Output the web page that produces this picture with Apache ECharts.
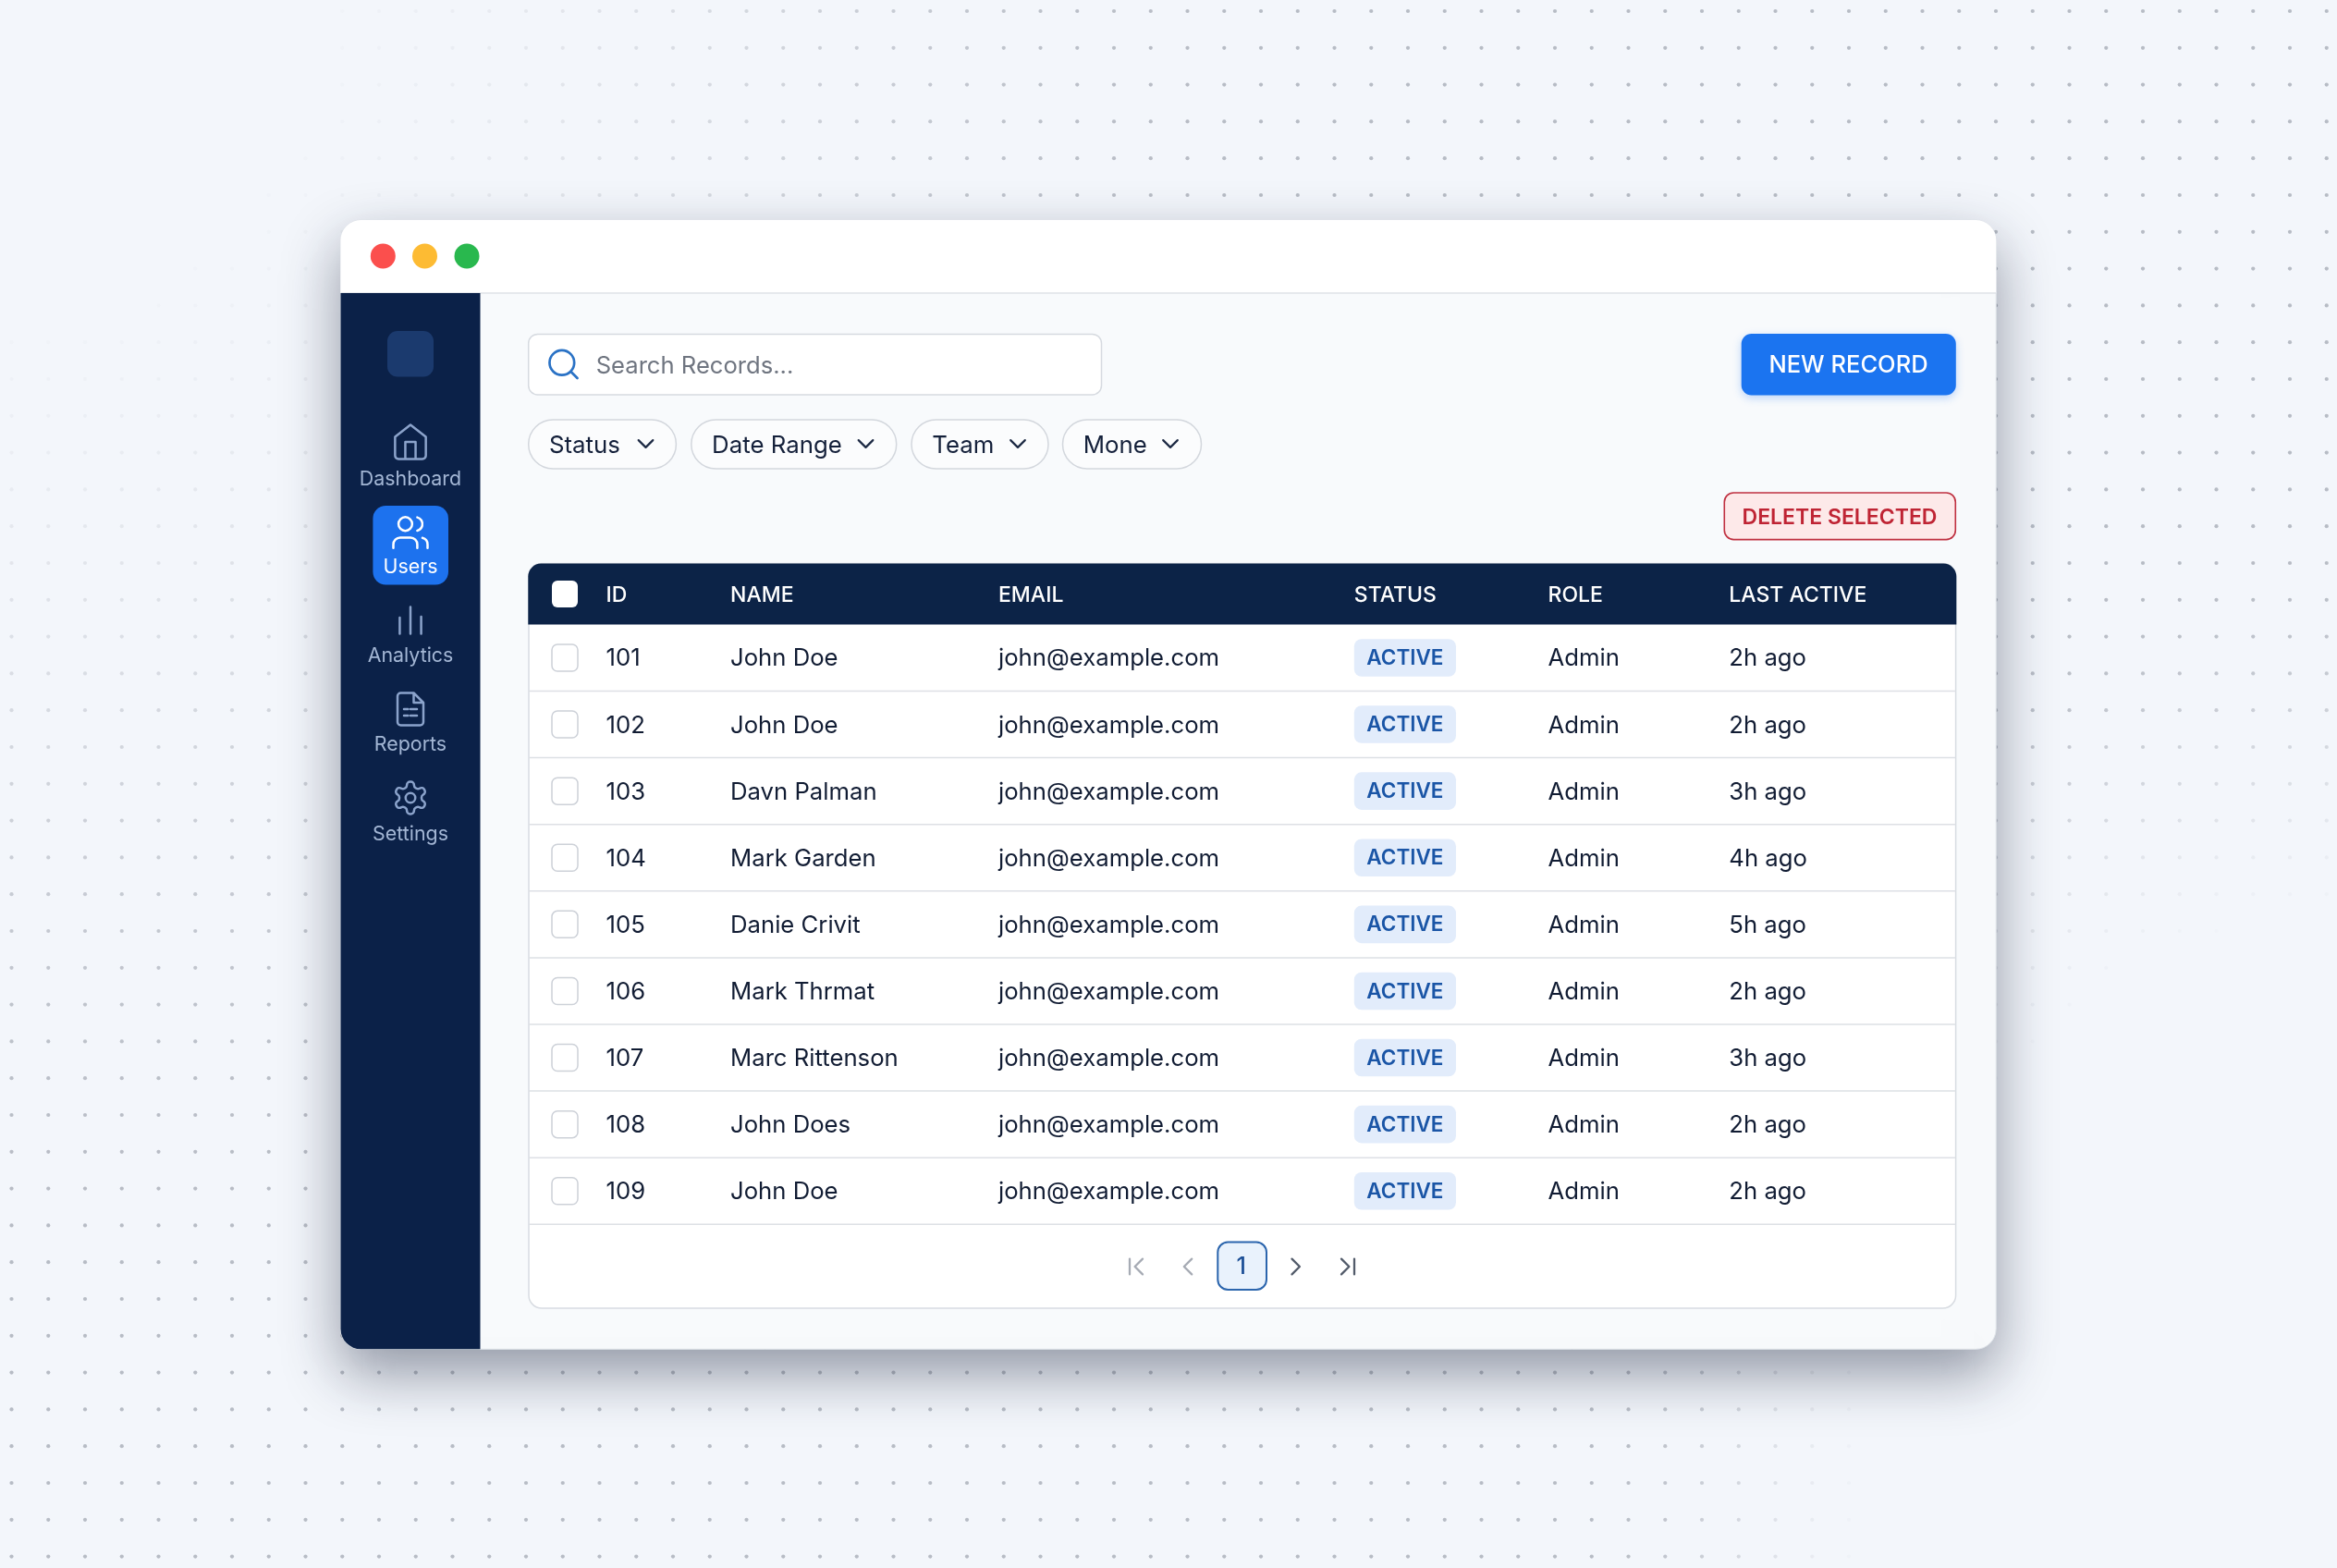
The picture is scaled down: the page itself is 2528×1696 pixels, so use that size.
<!DOCTYPE html>
<html><head><meta charset="utf-8">
<style>html,body{margin:0;padding:0;background:#f3f6fb}#c{width:2528px;height:1696px}</style>
<script src="https://cdn.jsdelivr.net/npm/echarts@6/dist/echarts.min.js"></script>
</head><body><div id="c"></div>
<script>
// ---- values ----
const navLabels = ['Dashboard','Users','Analytics','Reports','Settings'];
const filterLabels = ['Status','Date Range','Team','Mone'];
const tableColumns = ['ID','NAME','EMAIL','STATUS','ROLE','LAST ACTIVE'];
const rowIds = [101,102,103,104,105,106,107,108,109];
const rowNames = ['John Doe','John Doe','Davn Palman','Mark Garden','Danie Crivit','Mark Thrmat','Marc Rittenson','John Does','John Doe'];
const rowEmails = rowIds.map(() => 'john@example.com');
const rowStatuses = rowIds.map(() => 'ACTIVE');
const rowRoles = rowIds.map(() => 'Admin');
const rowLastActive = ['2h ago','2h ago','3h ago','4h ago','5h ago','2h ago','3h ago','2h ago','2h ago'];
const searchPlaceholder = 'Search Records...';
const newLabel = 'NEW RECORD';
const deleteLabel = 'DELETE SELECTED';
const pageLabel = '1';

// ---- layout and styling ----
const FONT = 'Inter';
const W = 2528, H = 1696;
const win = {x:368.5, y:238, r:2159.2, b:1459.3};
const side = 519.5, titleY = 317;
const table = {x:572, r:2115.6, top:609.6, head:675.4, rowH:72.1, bottom:1415};
const colX = [655.5,790,1080,1464.8,1674.5,1870.3];
const NAV_ICONS = [
  {d:'M3 9l9-7 9 7v11a2 2 0 0 1-2 2H5a2 2 0 0 1-2-2zM9 22V12h6v10', s:1.85, cy:478, ly:518.5},
  {d:'M16 21v-2a4 4 0 0 0-4-4H6a4 4 0 0 0-4 4v2M13 7a4 4 0 1 1-8 0 4 4 0 0 1 8 0zM22 21v-2a4 4 0 0 0-3-3.87M16 3.13a4 4 0 0 1 0 7.75', s:1.85, cy:576, ly:614},
  {d:'M6 20v-9M12 20V5M18 20v-9.5', s:1.93, cy:670, ly:710},
  {d:'M14 2H6a2 2 0 0 0-2 2v16a2 2 0 0 0 2 2h12a2 2 0 0 0 2-2V8zM14 2v6h6M8 12h2.5M12 12h4M8 16h2.5M12 16h4', s:1.75, cy:767, ly:806},
  {d:'M12.22 2h-.44a2 2 0 0 0-2 2v.18a2 2 0 0 1-1 1.73l-.43.25a2 2 0 0 1-2 0l-.15-.08a2 2 0 0 0-2.73.73l-.22.38a2 2 0 0 0 .73 2.73l.15.1a2 2 0 0 1 1 1.72v.51a2 2 0 0 1-1 1.74l-.15.09a2 2 0 0 0-.73 2.73l.22.38a2 2 0 0 0 2.73.73l.15-.08a2 2 0 0 1 2 0l.43.25a2 2 0 0 1 1 1.73V20a2 2 0 0 0 2 2h.44a2 2 0 0 0 2-2v-.18a2 2 0 0 1 1-1.73l.43-.25a2 2 0 0 1 2 0l.15.08a2 2 0 0 0 2.73-.73l.22-.39a2 2 0 0 0-.73-2.73l-.15-.08a2 2 0 0 1-1-1.74v-.5a2 2 0 0 1 1-1.74l.15-.09a2 2 0 0 0 .73-2.73l-.22-.38a2 2 0 0 0-2.73-.73l-.15.08a2 2 0 0 1-2 0l-.43-.25a2 2 0 0 1-1-1.73V4a2 2 0 0 0-2-2zM15 12a3 3 0 1 1-6 0 3 3 0 0 1 6 0z', s:1.75, cy:863, ly:902.5}
];
const FILTER_BOXES = [[571.7,731.4,698.5],[747.8,969.7,936.5],[986,1134,1101],[1149.5,1299.5,1266]];
const PAGE_ICONS = [
  {d:'M17 18l-6-6 6-6M7 6v12', cx:1229, c:'#a6abb4'},
  {d:'M15 18l-6-6 6-6', cx:1285, c:'#a6abb4'},
  {d:'M9 18l6-6-6-6', cx:1401.7, c:'#525b6a'},
  {d:'M7 18l6-6-6-6M17 6v12', cx:1458, c:'#525b6a'}
];

function text(str, x, y, font, fill, align) {
  return {type:'text', x:x, y:y, silent:true,
    style:{text:str, font:font, fill:fill, align:align||'left', verticalAlign:'middle',
           textAlign:align||'left', textVerticalAlign:'middle'}};
}
function icon(d, cx, cy, s, color, lw) {
  return {type:'path', x:cx-12*s, y:cy-12*s, scaleX:s, scaleY:s, silent:true,
    shape:{pathData:d},
    style:{fill:null, stroke:color, lineWidth:lw/s, lineCap:'round', lineJoin:'round'}};
}
function smooth(a,b,v){const t=Math.max(0,Math.min(1,(v-a)/(b-a)));return t*t*(3-2*t);}

// background dot texture
const dots = [];
for (let i=0;i<64;i++) for (let j=0;j<43;j++) {
  const x=12.5+i*39.75, y=12+j*39.8;
  const a1=smooth(220,1350,Math.hypot(x,y));
  const a2=smooth(1,1.7,Math.hypot((W-x)/480,(H-y)/656));
  const a=a1*a2;
  if (a<0.04) continue;
  dots.push({type:'circle', silent:true, shape:{cx:x,cy:y,r:2.1}, style:{fill:'rgba(140,146,158,'+(0.58*a).toFixed(3)+')'}});
}

const rect=(x,y,x2,y2,r,style,extra)=>Object.assign({type:'rect',silent:true,shape:{x:x,y:y,width:x2-x,height:y2-y,r:r},style:style},extra||{});

const chrome = [
  // window
  rect(win.x,win.y,win.r,win.b,22,{fill:'#f8fafc',shadowBlur:62,shadowOffsetY:26,shadowColor:'rgba(22,32,58,0.44)',stroke:'#e1e5ea',lineWidth:1}),
  rect(win.x,win.y,win.r,titleY,[22,22,0,0],{fill:'#ffffff'}),
  {type:'line',silent:true,shape:{x1:win.x,y1:titleY,x2:win.r,y2:titleY},style:{stroke:'#dfe2e7',lineWidth:1.5}},
  rect(win.x,titleY,side,win.b,[0,0,0,22],{fill:'#0b2148'}),
  {type:'circle',silent:true,shape:{cx:414.3,cy:277,r:13.5},style:{fill:'#fb4f4d'}},
  {type:'circle',silent:true,shape:{cx:459.5,cy:277,r:13.5},style:{fill:'#fdbb33'}},
  {type:'circle',silent:true,shape:{cx:505,cy:277,r:13.5},style:{fill:'#29b84e'}},
  rect(419,358,469,407.5,11,{fill:'#1b3a6e'}),
  rect(403.4,547,485,632.5,14,{fill:'#1d72ee'}),
  // search and buttons
  rect(571.7,361.4,1191.5,427,10,{fill:'#ffffff',stroke:'#d6dae0',lineWidth:1.5}),
  text(searchPlaceholder,644.7,396.2,'400 25.6px '+FONT,'#6f7580'),
  rect(1883.7,361,2115.8,427.5,11,{fill:'#1b74f0',shadowBlur:10,shadowOffsetY:3,shadowColor:'rgba(27,116,240,0.28)'}),
  text(newLabel,1999.5,395.8,'500 25.5px '+FONT,'#ffffff','center'),
  rect(1865.3,533,2115.3,583.6,10,{fill:'#fde9e9',stroke:'#bf3040',lineWidth:1.6}),
  text(deleteLabel,1990,559.8,'600 23px '+FONT,'#bf2434','center'),
  // table panel
  rect(table.x,table.top,table.r,table.bottom,14,{fill:'#ffffff',stroke:'#d8dce2',lineWidth:1.5}),
  rect(table.x-0.7,table.top,table.r+0.7,table.head,[14,14,0,0],{fill:'#0c2347'}),
  // pager
  rect(1317.3,1343.5,1370,1395,11,{fill:'#e9f2fc',stroke:'#2b65ad',lineWidth:2}),
  text(pageLabel,1342.6,1370.5,'500 25px '+FONT,'#1c4f96','center')
];

const option = {
  animation:false,
  backgroundColor:'#f3f6fb',
  grid:[
    {left:0, top:0, width:W, height:H, show:false},
    {left:0, top:table.head, width:W, height:table.rowH*rowIds.length, show:false}
  ],
  xAxis:[
    {type:'value', gridIndex:0, min:0, max:W, show:false},
    {type:'value', gridIndex:1, min:0, max:W, show:false}
  ],
  yAxis:[
    {type:'value', gridIndex:0, min:0, max:H, inverse:true, show:false},
    {type:'category', gridIndex:1, data:rowIds.map(String), inverse:true, show:false}
  ],
  graphic:{elements:[{type:'group', silent:true, children:dots.concat(chrome)}]},
  tooltip:{show:false},
  series:[
    { // sidebar navigation
      type:'custom', xAxisIndex:0, yAxisIndex:0, silent:true,
      data:navLabels.map((n,i)=>[444,NAV_ICONS[i].ly]),
      renderItem(p,api){
        const i=p.dataIndex, ic=NAV_ICONS[i], active=navLabels[i]==='Users';
        const pos=api.coord([api.value(0),api.value(1)]);
        return {type:'group',children:[
          icon(ic.d,pos[0],ic.cy,ic.s,active?'#ffffff':'#8ba3cb',2.5),
          text(navLabels[i],pos[0],pos[1],'400 21.4px '+FONT,active?'#ffffff':'#a3b6d4','center')
        ]};
      }
    },
    { // filter pills
      type:'custom', xAxisIndex:0, yAxisIndex:0, silent:true,
      data:filterLabels.map((n,i)=>[FILTER_BOXES[i][0],482.3]),
      renderItem(p,api){
        const b=FILTER_BOXES[p.dataIndex];
        const pos=api.coord([api.value(0),api.value(1)]);
        return {type:'group',children:[
          {type:'rect',silent:true,shape:{x:b[0],y:454,width:b[1]-b[0],height:53,r:26.5},style:{fill:'#fbfcfd',stroke:'#d3d7dd',lineWidth:1.5}},
          text(filterLabels[p.dataIndex],pos[0]+22.3,pos[1],'400 25.8px '+FONT,'#14203a'),
          icon('M6 9l6 6 6-6',b[2],480,1.3,'#1d2a44',2.2)
        ]};
      }
    },
    { // table header
      type:'custom', xAxisIndex:0, yAxisIndex:0, silent:true,
      data:tableColumns.map((n,i)=>[colX[i],643.8]),
      renderItem(p,api){
        const pos=api.coord([api.value(0),api.value(1)]);
        const kids=[text(tableColumns[p.dataIndex],pos[0],pos[1],'500 23px '+FONT,'#ffffff')];
        if(p.dataIndex===0) kids.push({type:'rect',silent:true,shape:{x:597,y:628,width:28,height:29,r:6},style:{fill:'#ffffff'}});
        return {type:'group',children:kids};
      }
    },
    { // table rows: band position from the category axis
      type:'custom', xAxisIndex:1, yAxisIndex:1, silent:true,
      encode:{x:0,y:1},
      data:rowIds.map((id,i)=>[0,i]),
      renderItem(p,api){
        const i=p.dataIndex;
        const c=api.coord([0,i]), y=c[1], h=api.size([0,1])[1];
        const f='400 25.7px '+FONT, ink='#111c33', ty=y+1.3;
        return {type:'group',children:[
          {type:'line',silent:true,shape:{x1:table.x,y1:y+h/2,x2:table.r,y2:y+h/2},style:{stroke:'#dde0e5',lineWidth:1.5}},
          {type:'rect',silent:true,shape:{x:597,y:y-14.5,width:28,height:29,r:6},style:{fill:'#ffffff',stroke:'#cdd1d8',lineWidth:1.5}},
          text(String(rowIds[i]),colX[0],ty,f,ink),
          text(rowNames[i],colX[1],ty,f,ink),
          text(rowEmails[i],colX[2],ty,f,ink),
          {type:'rect',silent:true,shape:{x:colX[3],y:y-20.3,width:110.2,height:40.6,r:8},style:{fill:'#e2ecfb'}},
          text(rowStatuses[i],colX[3]+55.1,y+0.8,'600 22.5px '+FONT,'#1a55a6','center'),
          text(rowRoles[i],colX[4],ty,f,ink),
          text(rowLastActive[i],colX[5],ty,f,ink)
        ]};
      }
    },
    { // small control icons
      type:'custom', xAxisIndex:0, yAxisIndex:0, silent:true,
      data:PAGE_ICONS.map(k=>[k.cx,1370]).concat([[609.5,394]]),
      renderItem(p,api){
        const pos=api.coord([api.value(0),api.value(1)]);
        const k=PAGE_ICONS[p.dataIndex];
        if(k) return icon(k.d,pos[0],pos[1],1.4,k.c,2.3);
        return icon('M19 11a8 8 0 1 1-16 0 8 8 0 0 1 16 0zM21 21l-4.35-4.35',pos[0],pos[1],1.67,'#2a72c5',2.7);
      }
    }
  ]
};
const chart = echarts.init(document.getElementById('c'), null, {width:W, height:H, renderer:'canvas'});
chart.setOption(option);
</script></body></html>
